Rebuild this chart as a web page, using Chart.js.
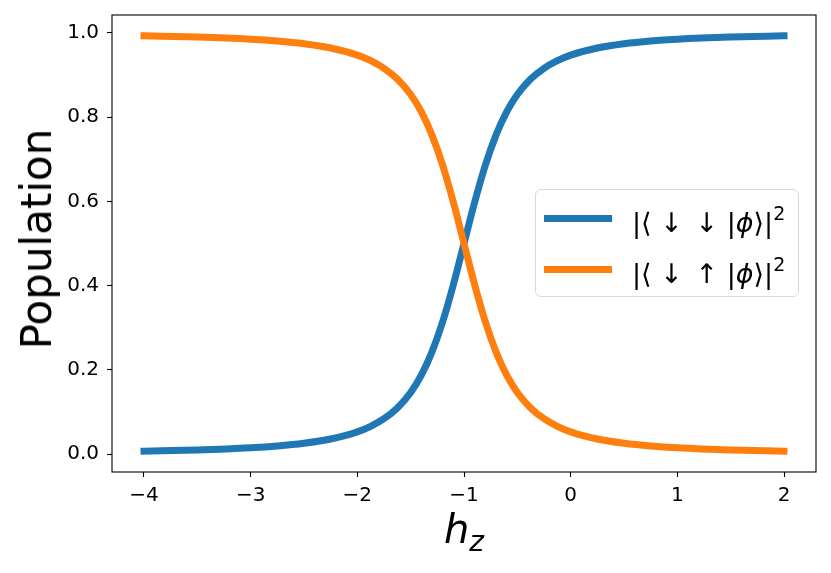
<!DOCTYPE html>
<html>
<head>
<meta charset="utf-8">
<script src="https://cdn.jsdelivr.net/npm/chart.js@4/dist/chart.umd.min.js"></script>
<style>
  html, body { margin: 0; padding: 0; background: #fff; }
  #wrap { position: relative; width: 831px; height: 573px; font-family: "DejaVu Sans", sans-serif; }
  #chart { position: absolute; left: 0; top: 0; }
  .ylabel { position: absolute; left: 37px; top: 239px; font-size: 42px; line-height: 1; white-space: nowrap;
            transform: translate(-50%, -50%) rotate(-90deg); }
  .xlabel { position: absolute; left: 464px; top: 532px; font-size: 40px; line-height: 1; white-space: nowrap;
            transform: translate(-50%, -50%); font-style: italic; }
  .xlabel sub { font-size: 28px; vertical-align: -8px; }
  .legend { position: absolute; left: 535px; top: 189px; width: 262px; height: 106px;
            border: 1.5px solid #d9d9d9; border-radius: 6px; background: rgba(255,255,255,0.8); }
  .legend .row { position: absolute; left: 0; height: 40px; width: 100%; }
  .legend .swatch { position: absolute; left: 8px; width: 68px; height: 7px; }
  .legend .txt { position: absolute; left: 96px; font-size: 27px; line-height: 1; white-space: nowrap; }
  .legend .txt sup { font-size: 19px; vertical-align: 12px; }
  .legend .gap { display: inline-block; width: 4px; }
</style>
</head>
<body>
<div id="wrap">
  <canvas id="chart" width="831" height="573"></canvas>
  <div class="ylabel">Population</div>
  <div class="xlabel">h<sub>z</sub></div>
  <div class="legend">
    <div class="row" style="top: 8px;">
      <div class="swatch" style="top: 17px; background: #1f77b4;"></div>
      <div class="txt" style="top: 6px;">|⟨ ↓ <span class="gap"></span>↓ |<i>ϕ</i>⟩|<sup>2</sup></div>
    </div>
    <div class="row" style="top: 59px;">
      <div class="swatch" style="top: 17px; background: #ff7f0e;"></div>
      <div class="txt" style="top: 6px;">|⟨ ↓ <span class="gap"></span>↑ |<i>ϕ</i>⟩|<sup>2</sup></div>
    </div>
  </div>
</div>
<script>
// --- Data ---
const hz = [-4, -3.5, -3, -2.75, -2.5, -2.25, -2, -1.875, -1.75, -1.625, -1.5, -1.4, -1.3, -1.2, -1.1, -1,
  -0.9, -0.8, -0.7, -0.6, -0.5, -0.375, -0.25, -0.125, 0, 0.25, 0.5, 0.75, 1, 1.5, 2];
const popDownDown = [0.0068, 0.0097, 0.0149, 0.0192, 0.0257, 0.0358, 0.0528, 0.0659, 0.0840, 0.1096, 0.1464,
  0.1876, 0.2428, 0.3143, 0.4019, 0.5, 0.5981, 0.6857, 0.7572, 0.8124, 0.8536, 0.8904, 0.9160, 0.9341,
  0.9472, 0.9642, 0.9743, 0.9808, 0.9851, 0.9903, 0.9932];
const popDownUp = [0.9932, 0.9903, 0.9851, 0.9808, 0.9743, 0.9642, 0.9472, 0.9341, 0.9160, 0.8904, 0.8536,
  0.8124, 0.7572, 0.6857, 0.5981, 0.5, 0.4019, 0.3143, 0.2428, 0.1876, 0.1464, 0.1096, 0.0840, 0.0659,
  0.0528, 0.0358, 0.0257, 0.0192, 0.0149, 0.0097, 0.0068];
const xTicks = [-4, -3, -2, -1, 0, 1, 2];
const yTicks = [0, 0.2, 0.4, 0.6, 0.8, 1.0];

const BLUE = '#1f77b4';
const ORANGE = '#ff7f0e';

// frame around the plot area (matplotlib style box)
const frame = {
  id: 'frame',
  afterDatasetsDraw(chart) {
    const a = chart.chartArea, ctx = chart.ctx;
    ctx.save();
    ctx.strokeStyle = '#000';
    ctx.lineWidth = 1.1;
    ctx.strokeRect(a.left, a.top, a.right - a.left, a.bottom - a.top);
    ctx.restore();
  }
};

function toPoints(xs, ys) {
  return xs.map((x, i) => ({ x, y: ys[i] }));
}

const tickFont = { family: 'DejaVu Sans', size: 20 };

new Chart(document.getElementById('chart').getContext('2d'), {
  type: 'line',
  data: {
    datasets: [
      { label: '|⟨↓↓|ϕ⟩|²', data: toPoints(hz, popDownDown), borderColor: BLUE, order: 1 },
      { label: '|⟨↓↑|ϕ⟩|²', data: toPoints(hz, popDownUp), borderColor: ORANGE, order: 0 }
    ]
  },
  options: {
    responsive: false,
    animation: false,
    devicePixelRatio: 1,
    layout: { padding: { left: 0, right: 15, top: 15, bottom: 41 } },
    elements: {
      point: { radius: 0 },
      line: { borderWidth: 7, cubicInterpolationMode: 'monotone', borderCapStyle: 'square', fill: false }
    },
    plugins: { legend: { display: false }, tooltip: { enabled: false } },
    scales: {
      x: {
        type: 'linear', min: -4.3, max: 2.3,
        afterBuildTicks: s => { s.ticks = xTicks.map(v => ({ value: v })); },
        afterFit: s => { s.height = 60; s.paddingLeft = 0; s.paddingRight = 0; },
        grid: { drawOnChartArea: false, color: '#000', tickLength: 5, tickWidth: 1.1 },
        border: { display: false },
        ticks: { color: '#000', font: tickFont, padding: 7, maxRotation: 0,
                 callback: v => (v < 0 ? '\u2212' + Math.abs(v) : String(v)) }
      },
      y: {
        type: 'linear', min: -0.0425, max: 1.0425,
        afterBuildTicks: s => { s.ticks = yTicks.map(v => ({ value: v })); },
        afterFit: s => { s.width = 112; s.paddingTop = 0; s.paddingBottom = 0; },
        grid: { drawOnChartArea: false, color: '#000', tickLength: 5, tickWidth: 1.1 },
        border: { display: false },
        ticks: { color: '#000', font: tickFont, padding: 8, callback: v => v.toFixed(1) }
      }
    }
  },
  plugins: [frame]
});
</script>
</body>
</html>
